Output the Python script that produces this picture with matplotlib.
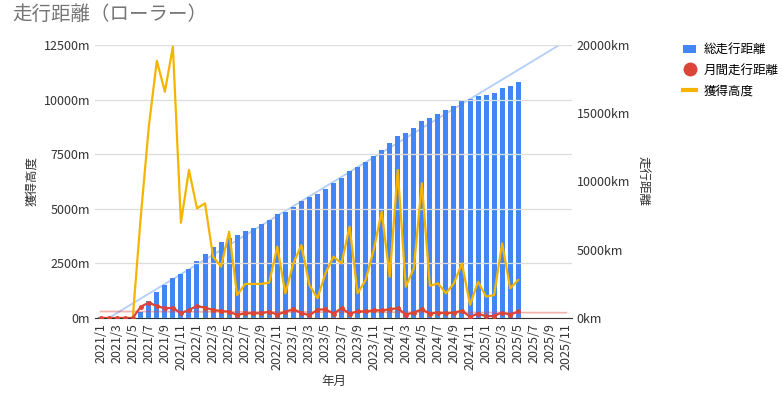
import matplotlib
matplotlib.use("Agg")
import matplotlib.pyplot as plt
import numpy as np

plt.rcParams["font.family"] = ["Noto Sans CJK JP", "DejaVu Sans"]

months = [f"{y}/{m}" for y in range(2021, 2026) for m in range(1, 13)][:59]
total_km = [50, 50, 50, 50, 50, 460, 1270, 1880, 2420, 2900, 3200, 3590, 4200, 4690, 5180,
            5540, 5840, 6080, 6400, 6620, 6890, 7180, 7600, 7790, 8160, 8600, 8840, 9060,
            9430, 9910, 10230, 10750, 11090, 11430, 11870, 12310, 12800, 13330, 13530, 13890,
            14430, 14630, 14920, 15240, 15530, 15970, 16040, 16260, 16340, 16510, 16830,
            17000, 17310]
monthly_km = [0, 0, 0, 0, 0, 520, 700, 550, 440, 470, 215, 370, 550, 470, 370, 320, 290,
              140, 215, 215, 215, 290, 150, 290, 400, 230, 120, 380, 400, 200, 450, 200,
              300, 300, 350, 350, 400, 450, 150, 250, 400, 200, 250, 220, 250, 330, 60, 200,
              80, 100, 250, 150, 300]
elevation_m = [0, 0, 0, 0, 0, 4640, 8760, 11780, 10360, 12420, 4360, 6780, 5020, 5250, 2810,
               2350, 3950, 1050, 1560, 1560, 1560, 1620, 3270, 1130, 2500, 3340, 1510, 900,
               2050, 2810, 2500, 4180, 1130, 1740, 3110, 4870, 1890, 6780, 1430, 2270, 6170,
               1470, 1590, 1130, 1590, 2500, 600, 1660, 980, 1050, 3420, 1360, 1740]

n = len(total_km)
xall = np.arange(len(months))
x = np.arange(n)

fig = plt.figure(figsize=(7.82, 4.05), dpi=100)
ax = fig.add_axes([95/782, 1-318/405, 477/782, 273/405])
ax2 = ax.twinx()
ax.set_zorder(ax2.get_zorder()+1)
ax.patch.set_visible(False)

ax2.bar(x, total_km, width=0.62, color="#4285F4", label="総走行距離", zorder=2)
c = np.polyfit(x, total_km, 1)
ax2.plot(xall, np.polyval(c, xall), color="#4285F4", alpha=0.4, lw=1.3, zorder=3)
ax2.set_ylim(0, 20000)
ax2.set_yticks(range(0, 20001, 5000))
ax2.set_yticklabels([f"{v}km" for v in range(0, 20001, 5000)])

ax.plot(x, elevation_m, color="#F4B400", lw=1.6, label="獲得高度", zorder=4)
ax.plot(x, monthly_km, color="#DB4437", lw=1.6, marker="o", ms=2.5, label="月間走行距離", zorder=5)
c2 = np.polyfit(x, monthly_km, 1)
ax.plot(xall, np.polyval(c2, xall), color="#DB4437", alpha=0.4, lw=1.3, zorder=3)
ax.set_ylim(0, 12500)
ax.set_yticks(range(0, 12501, 2500))
ax.set_yticklabels([f"{v}m" for v in range(0, 12501, 2500)])
ax.set_xlim(-0.7, len(months)-0.3)
ax.set_xticks(xall[::2])
ax.set_xticklabels(months[::2], rotation=90)
ax.grid(axis="y", color="#dddddd", lw=0.9)
ax.set_axisbelow(True)

for a in (ax, ax2):
    for s in a.spines.values():
        s.set_visible(False)
    a.tick_params(length=0, labelsize=9, colors="#333333")
ax.spines["bottom"].set_visible(True)
ax.spines["bottom"].set_color("#333333")

ax.set_xlabel("年月", fontsize=9, color="#333333")
ax.set_ylabel("獲得高度", fontsize=9, color="#333333")
ax2.set_ylabel("走行距離", fontsize=9, color="#333333", rotation=270, labelpad=14)

fig.text(12/782, 1-14/405, "走行距離（ローラー）", fontsize=14, color="#757575", va="center")

h1, l1 = ax2.get_legend_handles_labels()
h2, l2 = ax.get_legend_handles_labels()
import matplotlib.lines as mlines
hs = [h1[0], mlines.Line2D([], [], color="#DB4437", marker="o", ls="", ms=9),
      mlines.Line2D([], [], color="#F4B400", lw=3)]
fig.legend(hs, ["総走行距離", "月間走行距離", "獲得高度"], loc="upper left",
           bbox_to_anchor=(672/782, 1-32/405), frameon=False, fontsize=9,
           handlelength=1, handletextpad=0.6, labelspacing=0.6)
fig.savefig("out.png", dpi=100)
